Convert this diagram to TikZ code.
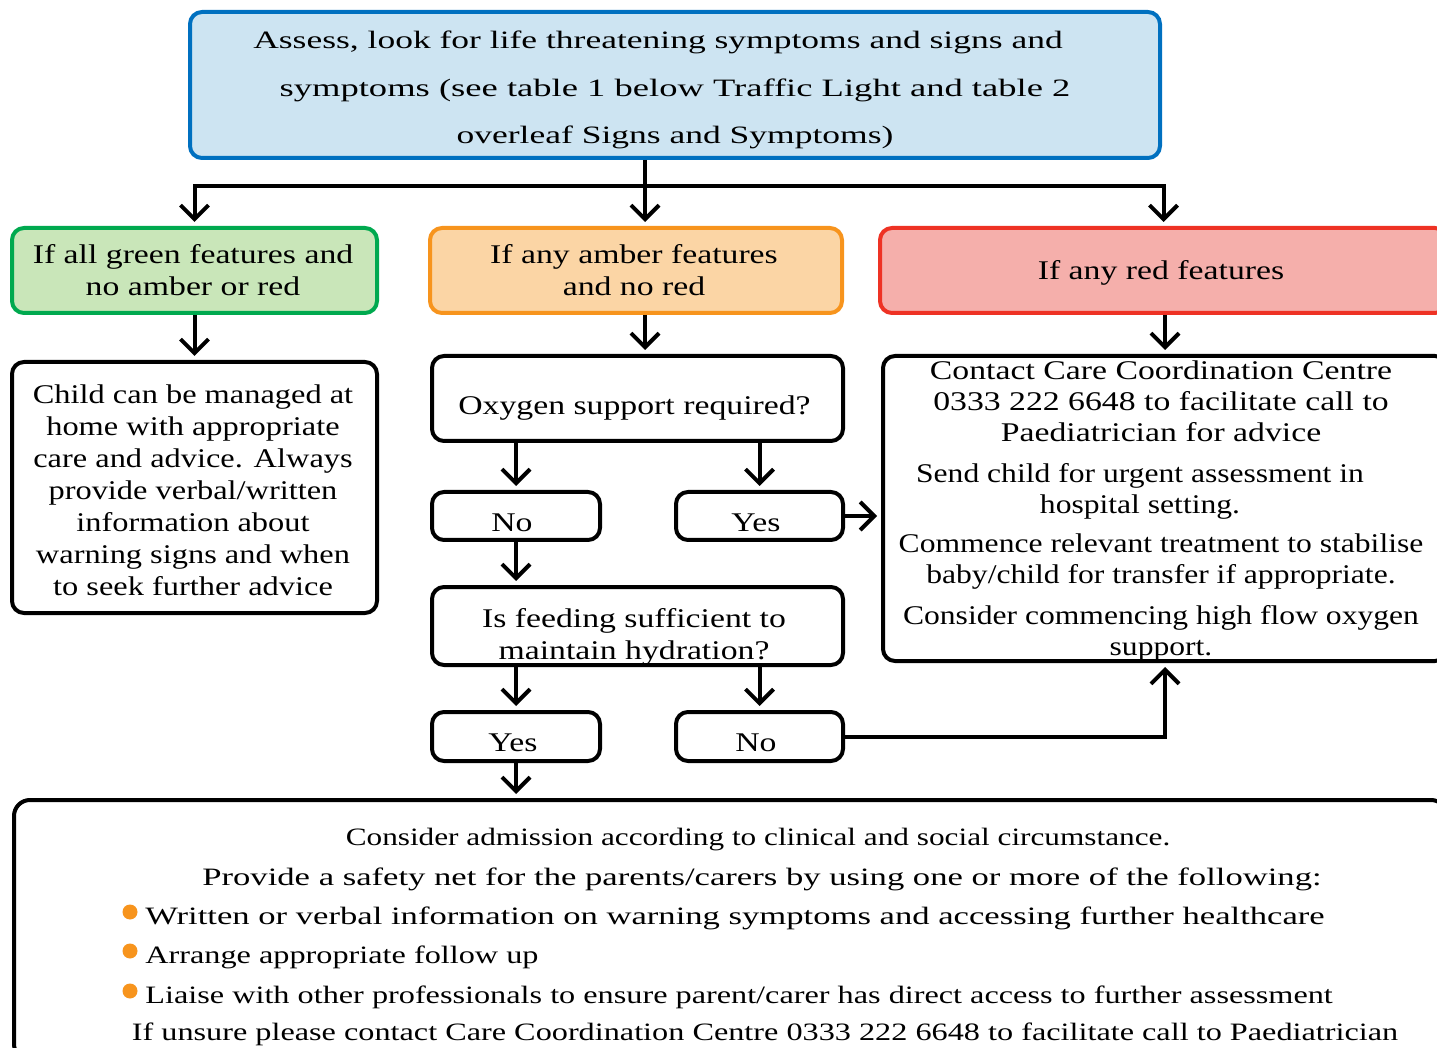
\documentclass[tikz,border=0pt]{standalone}
\usepackage{fontspec}
\setmainfont{Liberation Serif}
\newfontfamily\fT[FakeStretch=1.42]{Liberation Serif}
\newfontfamily\fTb[FakeStretch=1.462]{Liberation Serif}
\newfontfamily\fM[FakeStretch=1.25]{Liberation Serif}
\newfontfamily\fC[FakeStretch=1.20]{Liberation Serif}
\newfontfamily\fN[FakeStretch=1.17]{Liberation Serif}
\newfontfamily\fBa[FakeStretch=1.25]{Liberation Serif}
\newfontfamily\fB[FakeStretch=1.29]{Liberation Serif}
\newfontfamily\fBb[FakeStretch=1.385]{Liberation Serif}
\usetikzlibrary{arrows.meta}
\definecolor{blueFill}{HTML}{CDE4F2}
\definecolor{blueLine}{HTML}{0070C0}
\definecolor{greenFill}{HTML}{C9E6B9}
\definecolor{greenLine}{HTML}{00A94F}
\definecolor{amberFill}{HTML}{FBD5A5}
\definecolor{amberLine}{HTML}{F7941D}
\definecolor{redFill}{HTML}{F5AFAB}
\definecolor{redLine}{HTML}{EE3224}
\definecolor{bulletOrange}{HTML}{F7941D}
\tikzset{
  box/.style={draw=black, line width=2pt, rounded corners=6pt, inner sep=0pt, fill=white},
  txt/.style={align=center, inner sep=0pt, font=\fM\fontsize{13.5}{16}\selectfont},
  arr/.style={line width=2pt, -{Straight Barb[length=7pt,width=14pt]}, shorten >=2pt},
  plain/.style={line width=2pt},
  btext/.style={inner sep=0pt, font=\fB\fontsize{12.5}{15}\selectfont},
  bullet/.style={circle, fill=bulletOrange, inner sep=0pt, minimum size=7.5pt},
}
\begin{document}
\begin{tikzpicture}[x=0.5pt,y=-0.5pt]
\useasboundingbox (0,0) rectangle (1437,1048);
\clip (0,0) rectangle (1437,1048);
% top box
\node[box, draw=blueLine, fill=blueFill, minimum width=485pt, minimum height=73pt] (top) at (675,85) {};
\node[txt, font=\fT\fontsize{12.5}{23.75}\selectfont] (topT) at (675,90)
  {Assess, look for life threatening symptoms and signs and\hspace*{17pt}\\
   {\fTb symptoms (see table 1 below Traffic Light and table 2}\\
   overleaf Signs and Symptoms)};
% coloured boxes
\node[box, draw=greenLine, fill=greenFill, minimum width=182.5pt, minimum height=42.5pt] (green) at (194.5,270.5) {};
\node[txt] (greenT) at (193,270.5) {If all green features and\\ no amber or red};
\node[box, draw=amberLine, fill=amberFill, minimum width=206pt, minimum height=42.5pt] (amber) at (636,270.5) {};
\node[txt] (amberT) at (634,270.5) {If any amber features\\ and no red};
\node[box, draw=redLine, fill=redFill, minimum width=283.5pt, minimum height=42.5pt] (red) at (1163.5,270.5) {};
\node[txt] (redT) at (1161,272.5) {If any red features};
% green branch
\node[box, minimum width=182.5pt, minimum height=125.5pt] (child) at (194.5,487.5) {};
\node[txt, font=\fC\fontsize{13.5}{16}\selectfont] (childT) at (193,490.5)
  {Child can be managed at\\ home with appropriate\\ care and advice. Always\\ provide verbal/written\\
   information about\\ warning signs and when\\ to seek further advice};
% amber branch
\node[box, minimum width=205.5pt, minimum height=42.5pt] (oxy) at (637.5,398.5) {};
\node[txt] (oxyT) at (634.5,408.5) {Oxygen support required?};
\node[box, minimum width=84pt, minimum height=24pt] (no1) at (516,516) {};
\node[txt] (no1T) at (512,523) {No};
\node[box, minimum width=83.5pt, minimum height=24pt] (yes1) at (759.5,516) {};
\node[txt] (yes1T) at (756,523) {Yes};
\node[box, minimum width=205.5pt, minimum height=39pt] (feed) at (637.5,626) {};
\node[txt] (feedT) at (634,637) {Is feeding sufficient to\\ maintain hydration?};
\node[box, minimum width=84pt, minimum height=24.5pt] (yes2) at (516,736.5) {};
\node[txt] (yes2T) at (513,742.5) {Yes};
\node[box, minimum width=83.5pt, minimum height=24.5pt] (no2) at (759.5,736.5) {};
\node[txt] (no2T) at (756,742.5) {No};
% red branch
\node[box, minimum width=282pt, minimum height=152.5pt] (right) at (1165,508.5) {};
\node[txt, font=\fM\fontsize{13.5}{15.5}\selectfont] (rp1) at (1161,401)
  {Contact Care Coordination Centre\\ 0333 222 6648 to facilitate call to\\ Paediatrician for advice};
\node[txt, font=\fN\fontsize{13.5}{15.5}\selectfont] (rp2) at (1140,491)
  {Send child for urgent assessment in\\ hospital setting.};
\node[txt, font=\fN\fontsize{13.5}{15.5}\selectfont] (rp3) at (1161,562)
  {Commence relevant treatment to stabilise\\ baby/child for transfer if appropriate.};
\node[txt, font=\fN\fontsize{13.5}{15.5}\selectfont] (rp4) at (1161,633)
  {Consider commencing high flow oxygen\\ support.};
% bottom box
\node[box, minimum width=716.5pt, minimum height=130pt, rounded corners=8pt] (bottom) at (730.5,930) {};
\node[btext, font=\fBa\fontsize{12.5}{15}\selectfont, anchor=mid] (b1) at (758,841) {Consider admission according to clinical and social circumstance.};
\node[btext, font=\fBb\fontsize{12.5}{15}\selectfont, anchor=mid] (b2) at (762,881) {Provide a safety net for the parents/carers by using one or more of the following:};
\node[bullet] (d1) at (130,912) {};
\node[btext, font=\fBb\fontsize{12.5}{15}\selectfont, anchor=mid west] (b3) at (145,920) {Written or verbal information on warning symptoms and accessing further healthcare};
\node[bullet] (d2) at (130,951) {};
\node[btext, anchor=mid west] (b4) at (145,959) {Arrange appropriate follow up};
\node[bullet] (d3) at (130,991) {};
\node[btext, anchor=mid west] (b5) at (145,999) {Liaise with other professionals to ensure parent/carer has direct access to further assessment};
\node[btext, anchor=mid] (b6) at (765,1036) {If unsure please contact Care Coordination Centre 0333 222 6648 to facilitate call to Paediatrician};
% connectors
\coordinate (j) at (645,186);
\draw[plain] (top.south -| j) -- (j);
\draw[arr] (j) -| (green.north);
\draw[arr] (j) -| (red.north);
\draw[arr] (j) -- (amber.north -| j);
\draw[arr] (green) -- (child);
\draw[arr] (amber.south -| j) -- (oxy.north -| j);
\draw[arr] (oxy.south -| no1) -- (no1);
\draw[arr] (oxy.south -| yes1) -- (yes1);
\draw[arr] (yes1) -- (right.west |- yes1);
\draw[arr] (no1) -- (feed.north -| no1);
\draw[arr] (feed.south -| yes2) -- (yes2);
\draw[arr] (feed.south -| no2) -- (no2);
\draw[arr] (no2) -| (right.south);
\draw[arr] (red.south -| right.north) -- (right.north);
\draw[arr] (yes2) -- (bottom.north -| yes2);
\end{tikzpicture}
\end{document}
